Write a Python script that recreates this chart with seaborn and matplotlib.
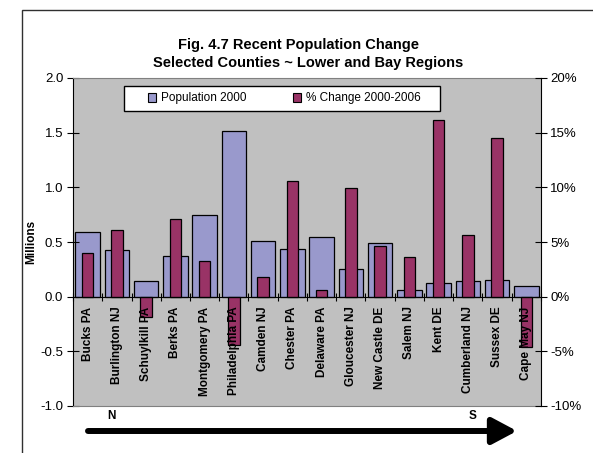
import numpy as np
import matplotlib
matplotlib.use('Agg')
import matplotlib.pyplot as plt
import seaborn as sns
from matplotlib.ticker import PercentFormatter, MultipleLocator, FormatStrFormatter
from matplotlib.patches import Rectangle, Patch

# data (north -> south)
counties = ['Bucks PA', 'Burlington NJ', 'Schuylkill PA', 'Berks PA', 'Montgomery PA',
            'Philadelphia PA', 'Camden NJ', 'Chester PA', 'Delaware PA', 'Gloucester NJ',
            'New Castle DE', 'Salem NJ', 'Kent DE', 'Cumberland NJ', 'Sussex DE', 'Cape May NJ']
pop_2000 = [0.595, 0.425, 0.141, 0.375, 0.750, 1.513, 0.507, 0.436,
            0.546, 0.253, 0.494, 0.061, 0.123, 0.141, 0.150, 0.098]   # millions
pct_change = [0.0397, 0.0607, -0.0188, 0.0708, 0.0324, -0.0442, 0.0180, 0.1056,
              0.0059, 0.0992, 0.0464, 0.0360, 0.1614, 0.0567, 0.1452, -0.0457]

blue = '#9999cc'
maroon = '#993366'

plt.rcParams['font.family'] = ['Liberation Sans', 'DejaVu Sans']
plt.rcParams['axes.unicode_minus'] = False

W, H = 593, 453
fig = plt.figure(figsize=(W / 100, H / 100), dpi=100)
ax = fig.add_axes([73 / W, 1 - 406 / H, 468 / W, 328 / H])
ax.set_facecolor('#c0c0c0')
ax2 = ax.twinx()

# bars
sns.barplot(x=counties, y=pop_2000, ax=ax, color=blue, width=0.84,
            edgecolor='black', linewidth=0.9, saturation=1)
sns.barplot(x=counties, y=pct_change, ax=ax2, color=maroon, width=0.39,
            edgecolor='black', linewidth=0.9, saturation=1)
for a in (ax, ax2):
    if a.get_legend() is not None:
        a.get_legend().remove()
    a.set_xlabel('')

ax.set_xlim(-0.5, len(counties) - 0.5)
ax.set_ylim(-1, 2)
ax2.set_ylim(-0.1, 0.2)

# y axes
ax.yaxis.set_major_locator(MultipleLocator(0.5))
ax.yaxis.set_major_formatter(FormatStrFormatter('%.1f'))
ax2.yaxis.set_major_locator(MultipleLocator(0.05))
ax2.yaxis.set_major_formatter(PercentFormatter(1.0, decimals=0))
ax.tick_params(axis='y', direction='inout', length=8, width=0.8, labelsize=9.5, pad=3)
ax2.tick_params(axis='y', direction='inout', length=8, width=0.8, labelsize=9.5, pad=2.5)
ax.set_ylabel('Millions', fontweight='bold', fontsize=8.5)
ax.yaxis.set_label_coords((37 - 73) / 468, 0.5)
ax2.set_ylabel('')

# spines
ax.spines['right'].set_visible(False)
ax.spines['top'].set_color('#808080')
ax.spines['bottom'].set_color('#808080')
ax.spines['left'].set_color('black')
ax2.spines['left'].set_visible(False)
ax2.spines['top'].set_visible(False)
ax2.spines['bottom'].set_position(('data', 0))
ax2.spines['bottom'].set_color('black')
ax2.spines['right'].set_color('black')

# category axis sits on the zero line, labels drawn over the bars
ax.tick_params(axis='x', which='both', bottom=False, labelbottom=False)
ax2.xaxis.set_visible(True)
ax2.set_xticks(range(len(counties)))
ax2.set_xticklabels(counties, rotation=90, fontweight='bold', fontsize=8.5)
ax2.set_xticks(np.arange(-0.5, len(counties)), minor=True)
ax2.tick_params(axis='x', which='major', length=0, pad=7, labelbottom=True)
ax2.tick_params(axis='x', which='minor', direction='inout', length=6, width=0.8)
ax2.set_axisbelow(False)

# legend: white box drawn separately so its padding matches the original
ax2.add_patch(Rectangle((124 / W, 1 - 111 / H), 316 / W, 25 / H, transform=fig.transFigure,
                        facecolor='white', edgecolor='black', lw=1, zorder=4, clip_on=False))
handles = [Patch(facecolor=blue, edgecolor='black', lw=0.8),
           Patch(facecolor=maroon, edgecolor='black', lw=0.8)]
leg = ax2.legend(handles, ['Population 2000', '% Change 2000-2006'], ncol=2,
                 loc='center left', bbox_to_anchor=(148 / W, 1 - 98.5 / H),
                 bbox_transform=fig.transFigure, frameon=False, fontsize=8.5,
                 handlelength=0.7, handleheight=0.7, handletextpad=0.4,
                 columnspacing=3.9, borderpad=0, borderaxespad=0)
leg.set_zorder(5)

# title
fig.text(298 / W, 1 - 45 / H, 'Fig. 4.7 Recent Population Change',
         ha='center', va='center', fontweight='bold', fontsize=10.5)
fig.text(308.5 / W, 1 - 63 / H, 'Selected Counties ~ Lower and Bay Regions',
         ha='center', va='center', fontweight='bold', fontsize=10.5)

# N / S and the direction arrow
fig.text(111.7 / W, 1 - 416 / H, 'N', ha='center', va='center', fontweight='bold', fontsize=8.5)
fig.text(473 / W, 1 - 416 / H, 'S', ha='center', va='center', fontweight='bold', fontsize=8.5)
ax.annotate('', xy=(517, H - 431), xytext=(88, H - 431),
            xycoords='figure pixels', textcoords='figure pixels', annotation_clip=False,
            arrowprops=dict(arrowstyle='-|>,head_length=0.75,head_width=0.4', lw=4.3,
                            color='black', mutation_scale=20, shrinkA=0, shrinkB=0))

# outer chart frame
fig.add_artist(Rectangle((22 / W, -0.5), 2, 1.5 - 10 / H, transform=fig.transFigure,
                         fill=False, edgecolor='#303030', lw=1))

fig.savefig('out.png', dpi=100)
